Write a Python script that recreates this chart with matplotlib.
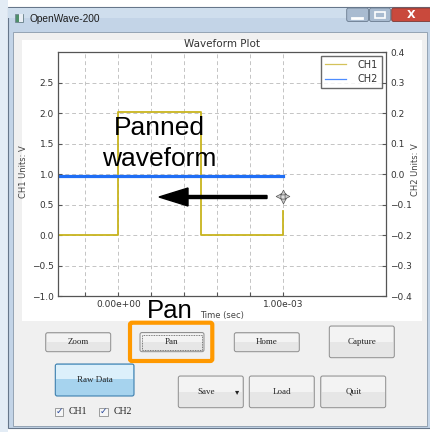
import matplotlib
matplotlib.use("Agg")
import matplotlib.pyplot as plt
from matplotlib.patches import Rectangle, FancyBboxPatch
from matplotlib.lines import Line2D

# waveform data
t_ch1 = [-0.40e-3, 0.0, 0.0, 0.50e-3, 0.50e-3, 1.00e-3, 1.00e-3]
v_ch1 = [0.0, 0.0, 2.02, 2.02, 0.0, 0.0, 0.40]
t_ch2 = [-0.40e-3, 1.00e-3]
v_ch2 = [-0.005, -0.005]

x_ticks = [-0.2e-3, 0.0, 0.2e-3, 0.4e-3, 0.6e-3, 0.8e-3, 1.0e-3]
x_labels = ["", "0.00e+00", "", "", "", "", "1.00e-03"]
y1_ticks = [-1.0, -0.5, 0.0, 0.5, 1.0, 1.5, 2.0, 2.5]
y2_ticks = [-0.4, -0.3, -0.2, -0.1, 0.0, 0.1, 0.2, 0.3, 0.4]

# buttons: label, x0, y0, x1, y1 (pixels)
buttons = [
    ("Zoom", 45.7, 332.7, 110.7, 351.7),
    ("Pan", 140, 332.5, 204, 351.7),
    ("Home", 234.3, 332.7, 299.3, 351.7),
    ("Capture", 329.3, 326, 394.3, 357.7),
    ("Save", 178.3, 376, 243.3, 407.7),
    ("Load", 249.3, 376, 314.3, 407.7),
    ("Quit", 320.7, 376, 385.7, 407.7),
]

W, H = 431, 432
fig = plt.figure(figsize=(W / 100, H / 100), dpi=100)
fig.patch.set_facecolor("white")

# ---- window chrome (pixel coordinates) ----
bg = fig.add_axes([0, 0, 1, 1], zorder=-1)
bg.set_xlim(0, W)
bg.set_ylim(H, 0)
bg.axis("off")

bg.add_patch(Rectangle((0, 0), 8, H, facecolor="#e3ecf5", edgecolor="none"))
bg.add_patch(Rectangle((8, 7), W - 8, 421, facecolor="#c3d4e7", edgecolor="#66768a", lw=0.8))
bg.add_patch(Rectangle((8.5, 7.5), W - 9, 10, facecolor="#cfdeed", edgecolor="none"))
bg.add_patch(Rectangle((12.7, 31.7), 414, 394, facecolor="#f0f0f0", edgecolor="#8a9aab", lw=0.6))
bg.add_patch(Rectangle((21.7, 40), 400, 280.7, facecolor="white", edgecolor="none"))

# title bar
bg.add_patch(Rectangle((15, 14), 8, 7.5, facecolor="#4f8f6a", edgecolor="#6d7d8d", lw=0.5))
bg.add_patch(Rectangle((19, 14), 4, 7.5, facecolor="#e8eef5", edgecolor="none"))
bg.text(30, 18.5, "OpenWave-200", fontsize=7.3, family="Liberation Sans",
        color="#1e1e1e", va="center", ha="left")
for x0, x1 in [(346.7, 368.5), (369.5, 390.5)]:
    bg.add_patch(FancyBboxPatch((x0, 8), x1 - x0, 13.5, boxstyle="round,pad=0,rounding_size=2",
                                facecolor="#a9bbd0", edgecolor="#6a7b8f", lw=0.6))
bg.plot([352, 362], [17.5, 17.5], color="white", lw=2)
bg.add_patch(Rectangle((375, 12), 10, 6, facecolor="none", edgecolor="white", lw=1.2))
bg.add_patch(FancyBboxPatch((391.7, 8), 39.3, 13.5, boxstyle="round,pad=0,rounding_size=2",
                            facecolor="#c9493c", edgecolor="#7a3a35", lw=0.6))
bg.text(411, 14.5, "X", fontsize=8, fontweight="bold", color="white",
        ha="center", va="center", family="DejaVu Sans")

# buttons
for label, x0, y0, x1, y1 in buttons:
    bg.add_patch(FancyBboxPatch((x0, y0), x1 - x0, y1 - y0, boxstyle="round,pad=0,rounding_size=2",
                                facecolor="#e6e6e6", edgecolor="#8e8e8e", lw=0.7))
    bg.add_patch(Rectangle((x0 + 1, y0 + 1), x1 - x0 - 2, (y1 - y0) / 2 - 1,
                           facecolor="#f3f3f3", edgecolor="none"))
    tx = (x0 + x1) / 2 - (5 if label == "Save" else 0)
    bg.text(tx, (y0 + y1) / 2, label, fontsize=6.5, family="Liberation Serif",
            color="#222222", ha="center", va="center")
bg.text(237, 392, "\u25BE", fontsize=6, color="#222222", ha="center", va="center")
# focus rectangle of Pan
bg.add_patch(Rectangle((142, 334.5), 60, 15.5, facecolor="none", edgecolor="#555555",
                       lw=0.6, linestyle=(0, (1, 1))))

# Raw Data button
bg.add_patch(FancyBboxPatch((55.3, 364), 78.7, 32, boxstyle="round,pad=0,rounding_size=2",
                            facecolor="#a6d3ee", edgecolor="#3d7fae", lw=0.8))
bg.add_patch(Rectangle((56.5, 365), 76.3, 14, facecolor="#dcf0fb", edgecolor="none"))
bg.text(94.7, 380, "Raw Data", fontsize=6.5, family="Liberation Serif",
        color="#222222", ha="center", va="center")

# check boxes
for cx, label in [(55, "CH1"), (99.3, "CH2")]:
    bg.add_patch(Rectangle((cx, 407.5), 8.5, 8.5, facecolor="#f6f6f6", edgecolor="#8e8f8f", lw=0.6))
    bg.text(cx + 4.3, 411.5, "\u2713", fontsize=6.5, color="#2b4a9c", ha="center", va="center",
            family="DejaVu Sans")
    bg.text(cx + 14, 411.8, label, fontsize=7, family="Liberation Serif",
            color="#222222", ha="left", va="center")

# ---- the plot ----
ax = fig.add_axes([58 / W, 1 - 296 / H, 328 / W, 244 / H])
ax.plot(t_ch1, v_ch1, color="#c8b41e", lw=1.3)
ax.plot(t_ch2, [v * 5 + 1 for v in v_ch2], color="#1f6ef5", lw=2.3)
ax.set_xlim(-0.367e-3, 1.628e-3)
ax.set_ylim(-1.0, 3.0)
ax.set_xticks(x_ticks)
ax.set_xticklabels(x_labels)
ax.set_yticks(y1_ticks)
ax.set_yticklabels([f"{v:.1f}".replace("-", "\u2212") for v in y1_ticks])
ax.grid(True, color="#c4c4c4", linestyle=(0, (4, 3)), lw=0.7)
ax.tick_params(direction="in", length=3, labelsize=6.5, colors="#555555", labelcolor="#333333", pad=3)
for s in ax.spines.values():
    s.set_color("#555555")
    s.set_linewidth(0.9)
ax.set_title("Waveform Plot", fontsize=7.5, color="#333333", pad=3.5)
handles = [Line2D([], [], color="#d4c25a", lw=0.9), Line2D([], [], color="#4d8cff", lw=0.9)]
ax.legend(handles, ["CH1", "CH2"], loc="upper right", fontsize=7, frameon=True, fancybox=False,
          edgecolor="#444444", handlelength=2.2, borderpad=0.4, labelspacing=0.45,
          handletextpad=1.2, borderaxespad=0.4, labelcolor="#333333")

ax2 = ax.twinx()
ax2.set_ylim(-0.4, 0.4)
ax2.set_yticks(y2_ticks)
ax2.set_yticklabels([f"{v:.1f}".replace("-", "\u2212") for v in y2_ticks])
ax2.tick_params(direction="in", length=3, labelsize=6.5, colors="#555555", labelcolor="#333333", pad=3)
for s in ax2.spines.values():
    s.set_visible(False)

fig.text(24 / W, 1 - 172 / H, "CH1 Units: V", rotation=90, fontsize=6, color="#444444",
         ha="center", va="center")
fig.text(416 / W, 1 - 170 / H, "CH2 Units: V", rotation=90, fontsize=6, color="#444444",
         ha="center", va="center")
fig.text(222 / W, 1 - 315.5 / H, "Time (sec)", fontsize=6, color="#444444", ha="center", va="center")

# ---- annotations over everything ----
ov = fig.add_axes([0, 0, 1, 1], zorder=10)
ov.set_xlim(0, W)
ov.set_ylim(H, 0)
ov.axis("off")
ov.patch.set_alpha(0)

ov.text(159, 135, "Panned", fontsize=19, family="Liberation Sans", ha="center", va="baseline")
ov.text(159, 166.5, "waveform", fontsize=19, family="Liberation Sans", ha="center", va="baseline")
ov.text(169.5, 318.5, "Pan", fontsize=18.5, family="Liberation Sans", ha="center", va="baseline")
ov.arrow(267, 197, -108, 0, width=3, head_width=18, head_length=29,
         length_includes_head=True, color="black")
# pan cursor
cx, cy = 283, 196
ov.plot(cx, cy, "o", ms=5, mfc="#dddddd", mec="#666666", mew=0.7)
for dx, dy, m in [(0, -4.5, "^"), (0, 4.5, "v"), (-4.5, 0, "<"), (4.5, 0, ">")]:
    ov.plot(cx + dx, cy + dy, m, ms=3.5, mfc="#cccccc", mec="#555555", mew=0.5)

# orange highlight around Pan
ov.add_patch(FancyBboxPatch((130, 322.7), 82.3, 38.3, boxstyle="round,pad=0,rounding_size=2",
                            facecolor="none", edgecolor="#ff9900", lw=3))

fig.savefig("out.png", dpi=100)
